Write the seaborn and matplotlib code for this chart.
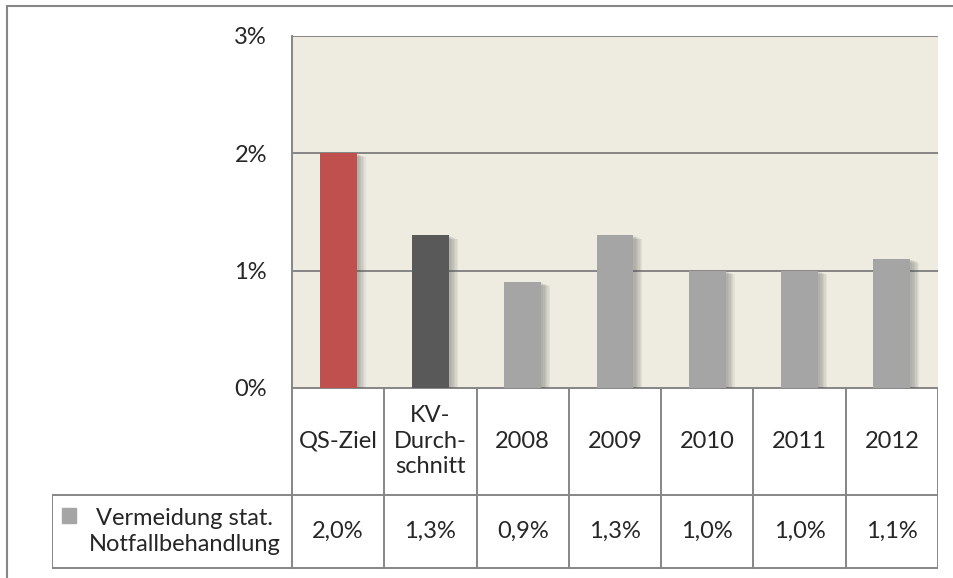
import numpy as np
import matplotlib
matplotlib.use("Agg")
import matplotlib.pyplot as plt
import matplotlib.patheffects as pe
from matplotlib.lines import Line2D
import seaborn as sns

sns.set_style("white")
plt.rcParams['font.family'] = ['Lato', 'DejaVu Sans']

# data
categories = ["QS-Ziel", "KV-\nDurch-\nschnitt", "2008", "2009", "2010", "2011", "2012"]
values = [0.020, 0.013, 0.009, 0.013, 0.010, 0.010, 0.011]
bar_colors = ["#C0504D", "#595959", "#A5A5A5", "#A5A5A5", "#A5A5A5", "#A5A5A5", "#A5A5A5"]
series_name = "Vermeidung stat.\nNotfallbehandlung"
yticks = [0, 0.01, 0.02, 0.03]

W, H = 954, 578
fig = plt.figure(figsize=(W / 100, H / 100), dpi=100)

def px_box(x0, y0, x1, y1):
    return [x0 / W, 1 - y1 / H, (x1 - x0) / W, (y1 - y0) / H]

grid_col = "#868686"
fs = 17

# plot area
ax = fig.add_axes(px_box(292, 36, 938, 388))
ax.set_facecolor("#EEECE1")
sns.barplot(x=list(range(len(values))), y=values, hue=list(range(len(values))),
            palette=bar_colors, legend=False, width=0.4, saturation=1, ax=ax, zorder=3)

shadow = [pe.SimplePatchShadow(offset=(o, -o * 0.4), shadow_rgbFace="#555555", alpha=0.08)
          for o in (1.5, 2.5, 3.5, 4.5, 5.5, 6.5)]
for p in ax.patches:
    p.set_path_effects(shadow + [pe.Normal()])
    p.set_linewidth(0)

ax.set_xlim(-0.5, len(values) - 0.5)
ax.set_ylim(0, 0.03)
ax.set_yticks(yticks)
ax.set_yticklabels([f"{int(round(t * 100))}%" for t in yticks], fontsize=fs)
ax.set_xticks([])
ax.set_xlabel("")
ax.tick_params(axis="y", length=0, pad=18)
ax.yaxis.grid(True, color=grid_col, lw=1.4, zorder=1)
ax.set_axisbelow(True)
for s in ["top", "right", "bottom"]:
    ax.spines[s].set_visible(False)
ax.spines["left"].set_color(grid_col)
ax.spines["left"].set_linewidth(1.4)

# data table under the plot
n = len(values)
units_per_px = n / 646
left_x = -0.5 - (292 - 52) * units_per_px
tab = fig.add_axes(px_box(52, 388, 938, 570))
tab.set_xlim(left_x, n - 0.5)
tab.set_ylim(182, 0)
tab.axis("off")

lk = dict(color=grid_col, lw=1.4, solid_capstyle="projecting")
tab.plot([-0.5, n - 0.5], [0, 0], **lk)
tab.plot([left_x, n - 0.5], [107, 107], **lk)
tab.plot([left_x, n - 0.5], [180, 180], **lk)
for k in range(n + 1):
    tab.plot([k - 0.5, k - 0.5], [0, 180], **lk)
tab.plot([left_x, left_x], [107, 180], **lk)

for i, (c, v) in enumerate(zip(categories, values)):
    tab.text(i, 53, c, ha="center", va="center", fontsize=fs, linespacing=1.27)
    tab.text(i, 143.5, f"{v * 100:.1f}%".replace(".", ","), ha="center", va="center", fontsize=fs)

# legend key + series name
key_x = left_x + 10 * units_per_px
tab.add_patch(plt.Rectangle((key_x, 120), 14 * units_per_px, 15, color="#A5A5A5", clip_on=False))
tab.text(left_x + 133 * units_per_px, 143.5, series_name, ha="center", va="center",
         fontsize=fs, linespacing=1.27)

# outer chart frame
fig.add_artist(Line2D([7 / W, 7 / W], [0, 1 - 6 / H], color=grid_col, lw=1.5))
fig.add_artist(Line2D([7 / W, 1], [1 - 6 / H, 1 - 6 / H], color=grid_col, lw=1.5))

fig.savefig("out.png", dpi=100)
